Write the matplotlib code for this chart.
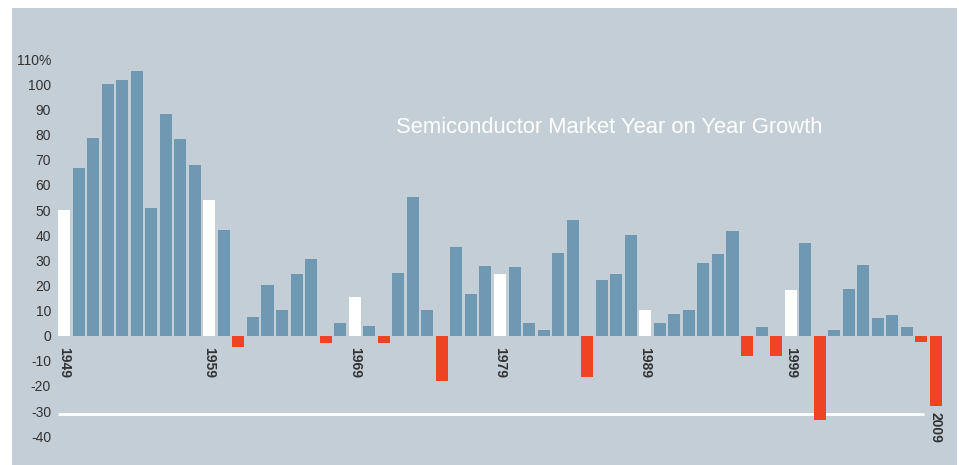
import numpy as np
import matplotlib
matplotlib.use("Agg")
import matplotlib.pyplot as plt
from matplotlib.patches import Rectangle

# yearly growth of the semiconductor market, percent
years = list(range(1949, 2010))
growth = [
    50.0, 66.7, 78.6, 100.1, 101.7, 105.3, 50.8, 88.2, 78.3, 67.9,
    54.0, 42.0, -4.4, 7.6, 20.2, 10.2, 24.5, 30.5, -2.8, 5.0,
    15.4, 3.9, -2.8, 24.9, 55.2, 10.2, -17.9, 35.3, 16.6, 27.7,
    24.5, 27.3, 5.0, 2.3, 32.9, 46.0, -16.3, 22.2, 24.5, 40.1,
    10.2, 4.9, 8.5, 10.2, 28.9, 32.5, 41.6, -8.2, 3.5, -8.2,
    18.2, 36.9, -33.5, 2.3, 18.6, 28.1, 7.1, 8.3, 3.5, -2.6,
    -28.0,
]
label_years = [1949, 1959, 1969, 1979, 1989, 1999, 2009]
yticks = [-40, -30, -20, -10, 0, 10, 20, 30, 40, 50, 60, 70, 80, 90, 100, 110]
ytick_labels = [str(v) for v in yticks[:-1]] + ["110%"]
ref_level = -31

bg = "#c4ced7"
blue = "#6f99b3"
red = "#ef4423"
txt = "#333333"

plt.rcParams["font.family"] = ["Liberation Sans", "DejaVu Sans"]

fig = plt.figure(figsize=(9.59, 4.65), dpi=100)
fig.patch.set_facecolor("white")
fig.patches.append(Rectangle((12 / 959, 0), 945 / 959, 1 - 8 / 465,
                             transform=fig.transFigure, facecolor=bg,
                             edgecolor="none", zorder=-5))

ax = fig.add_axes([58 / 959, 1 - 461.4 / 465, 884 / 959, (461.4 - 46.6) / 465])
ax.set_facecolor("none")

x = np.arange(len(years))
w = 0.83
colors = []
for yr, g in zip(years, growth):
    if g < 0:
        colors.append(red)
    elif yr in label_years:
        colors.append("white")
    else:
        colors.append(blue)
ax.bar(x, growth, width=w, color=colors, edgecolor="none", zorder=2)

ax.set_xlim(-w / 2, len(years) - 1 + w / 2)
ax.set_ylim(-50, 115)

# reference line across the lower part
ax.plot([-w / 2, len(years) - 1 - 0.8], [ref_level, ref_level],
        color="white", lw=2, zorder=1, solid_capstyle="butt")

# decade labels under the bars
for yr in label_years:
    i = years.index(yr)
    g = growth[i]
    y0 = g - 2.4 if g < 0 else -4.4
    ax.text(i, y0, str(yr), rotation=270, ha="center", va="top",
            fontsize=10, fontweight="bold", color=txt)

ax.set_yticks(yticks)
ax.set_yticklabels(ytick_labels, fontsize=10, color=txt)
ax.tick_params(axis="y", length=0, pad=5)
ax.set_xticks([])
for s in ax.spines.values():
    s.set_visible(False)

fig.text(609 / 959, 1 - 127 / 465, "Semiconductor Market Year on Year Growth",
         ha="center", va="center", fontsize=15.8, color="white")

fig.savefig("out.png", dpi=100, facecolor=fig.get_facecolor())
